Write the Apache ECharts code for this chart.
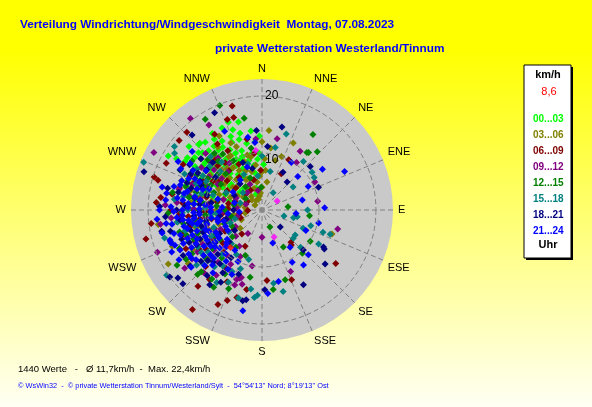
<!DOCTYPE html>
<html>
<head>
<meta charset="utf-8">
<script src="https://cdn.jsdelivr.net/npm/echarts@6/dist/echarts.min.js"></script>
<style>
html, body { margin: 0; padding: 0; }
#main { width: 592px; height: 407px; }
</style>
</head>
<body>
<div id="main"></div>
<script>
// Zeitfenster (Legende) und Himmelsrichtungen
var timeSlots = ['00...03', '03...06', '06...09', '09...12', '12...15', '15...18', '18...21', '21...24'];
var dirNames = ['N', 'NNE', 'NE', 'ENE', 'E', 'ESE', 'SE', 'SSE', 'S', 'SSW', 'SW', 'WSW', 'W', 'WNW', 'NW', 'NNW'];
var speedTicks = [10, 20];
var currentSpeed = '8,6';

// Messwerte je Zeitfenster: [Richtung in Grad, Geschwindigkeit km/h]
var w0003 = [[315,12],[320,10],[325,11],[330,9],[318,14],[310,13],[305,11],[322,7],[335,8],[340,10],[328,13],[312,9],[300,12],[298,14],[308,15],[316,16],[326,15],[332,12],[338,6],[345,9],[320,5],[310,7],[300,8],[295,10],[290,12],[285,9],[315,8],[324,9],[318,11],[330,14],[335,11],[342,13],[313,11],[306,9],[327,10],[303,14],[293,7],[311,17],[321,12],[334,16],[288,14],[283,11],[296,16],[309,5],[350,8],[347,12],[337,14],[329,7],[317,13],[302,10],[280,13],[276,10],[286,6],[340,15],[323,14],[305,16],[299,5],[270,12],[262,9],[345,16],[300,19],[301,17.5],[317,16],[354,12],[357,10],
    [314,14.5],[319,12.5],[324,13],[333,10],[336,9.5],[341,11],[344,14],[339,16.5],[327,16],[320,15.5],[312,15],[307,13],[302,16],[297,12],[292,14],[288,10.5],[282,15],[278,12],[331,6.5],[326,7.5],[319,8.5],[313,6],[307,7],[349,10],[352,14],[346,7],[336,13],[322,10.5],[309,11.5],[298,9],
    [345,4],[350,6.5],[355,9],[358,13],[2,8],[340,3],[328,4.5]];
var w0306 = [[335,6],[340,4],[345,7],[350,5],[330,8],[325,5],[320,7],[315,6],[310,9],[300,7],[290,8],[280,9],[270,10],[305,4],[355,3],[0,4],[10,5],[15,9],[20,10],[340,9],[328,11],[318,4],[295,11],[285,13],[275,6],[265,8],[250,10],[240,14],[255,12],[335,13],[345,10],[300,5],[312,12],[322,3],[352,8],[5,7],[330,2],[260,5],[310,14],[290,15],[25,13],[0,12],[109,13],[315,10],[305,8],[292,6],[283,4],[330,11],[338,12],[248,17],[234,16],[262,15],[240,19],[262,18.4],[305,1.5],[0,6.7],
    [320,9.5],[326,9],[332,6],[338,7.5],[344,5.5],[348,9.5],[314,8],[308,6.5],[302,9.5],[296,8.5],[289,10],[282,11],[276,12.5],[270,8],[266,11],[258,13],[252,8],[244,12],[318,12.5],[325,13.5],[330,15],[304,11],[286,7],
    [350,2.5],[356,6],[3,9],[8,11],[342,2],[315,2.5],[296,3],[278,3],[5,14],
    [260,3],[245,4],[230,5]];
var w0609 = [[344,19],[343,17],[316,19],[310,19],[286,19],[296,18.7],[274,18.6],[263,19.6],[256,21],[215,21.3],[205,18.3],[201,17],[196,16],[220,17.5],[217,15.3],[191,14.2],[126,16],[138,7.6],[140,8],[176,12.4],[157,13.3],[28,10],[28,7.2],[339,17],[348,12.7],[328,15.7],[287,19.8],[277,17.9],[300,10],[290,11],[280,8],[270,12],[260,9],[250,11],[240,10],[310,6],[320,9],[330,12],[295,14],[285,15],[275,14],[265,13],[255,7],[245,13],[235,12],[230,9],[225,14],[305,12],[315,11],[325,7],[288,5],[272,6],[262,4],[300,16],[280,16],[270,16],
    [310,8],[304,9],[296,11.5],[291,13],[283,10],[278,11],[268,10],[262,11],[257,13],[249,9],[243,15],[238,13],[228,12],[222,10],[317,12],[322,10.5],[333,9],[326,14],[299,7],[281,6],[267,14.5],[253,14.5],[212,12],[206,14],
    [330,4],[345,5.5],[352,10],[358,7],[300,3],[315,4],[268,2.5],
    [250,4],[235,6],[220,5.5],[205,7],[240,7.5],[265,7]];
var w0912 = [[322,20.4],[328,17.6],[298,21.5],[248,19.8],[233,17],[197,12.4],[211,4.8],[180,4.8],[104,13.7],[155,11.9],[81,9.9],[33,12.3],[36,10.3],[62,10.5],[12,12.8],[300,9],[290,13],[280,11],[270,9],[260,12],[250,14],[240,12],[230,11],[220,12],[210,11],[305,13],[315,14],[285,7],[275,15],[265,16],[255,10],[245,9],[235,15],[225,9],[295,5],[310,11],[320,12],[268,7],[252,6],[215,14],[205,9],[190,10],[200,14],[198,12.6],[200,13],[195,13.5],
    [308,9],[302,11],[293,10.5],[288,12],[281,13],[276,9.5],[271,12],[263,10],[258,8],[247,12.5],[242,10],[237,13.5],[228,13],[223,15],[313,12.5],[318,9],[325,10],[296,14],[284,15],[273,17],[262,18],[218,10],[208,12],
    [335,5],[348,3.5],[355,12.5],[320,4],[290,3],[275,4.5],
    [255,4.5],[238,5.5],[225,6.5],[212,7.5],[245,8],[262,6]];
var w1215 = [[338,19.8],[328,18.8],[349,16.4],[34,16],[39,13],[43.5,14.1],[83,4.6],[97,8.4],[123,10.1],[155,3.3],[161.6,12.9],[172,14.1],[237,17.8],[224.5,15.2],[212,16],[237,15.9],[203,15],[300,11],[290,9],[280,13],[270,11],[260,14],[250,12],[240,11],[230,13],[310,10],[320,13],[330,10],[295,7],[285,12],[275,8],[265,10],[255,15],[245,16],[235,9],[305,15],[315,9],[220,11],[210,13],[225,16],[190,12],[38,12.8],[137,10.4],[150,7.5],
    [307,12],[302,8.5],[298,13],[292,11],[287,14],[283,8],[277,10.5],[272,13],[267,9],[262,12],[257,10],[252,14],[247,13],[242,9.5],[238,14.5],[232,11],[227,13],[313,13],[318,11.5],[325,12],[296,10],[281,16],[268,16.5],[216,15],
    [340,6],[350,11],[358,4],[325,5],[305,3.5],[280,5],
    [258,5.5],[242,6],[228,7],[215,8],[250,7],[270,6.5],[200,8.5]];
var w1518 = [[292,22.4],[306,19],[303,18.3],[254,17.8],[235.6,20.3],[185,15.4],[183,15],[165.5,14.8],[171,13],[121,11.6],[110,11.4],[109.5,12.7],[90,8],[105,4],[104,5.7],[127,7.3],[134,9.4],[108,9],[40.5,11.2],[17.7,14],[12,11.2],[58,10.8],[53.4,6.8],[33,3.6],[12,6.9],[300,12],[290,10],[280,14],[270,13],[260,11],[250,9],[240,13],[230,15],[220,13],[310,12],[320,11],[295,15],[285,11],[275,12],[265,9],[255,14],[245,11],[235,13],[225,12],[215,12],[205,14],[195,16],[188,14],[200,11],[114,7.9],[101,6.3],[132,7.4],[53,11],
    [306,10],[302,13.5],[297,11],[292,12.5],[287,9],[282,12],[277,15.5],[272,10],[268,14],[262,15],[257,12],[252,11],[247,14],[243,10],[237,11],[232,12],[227,14],[222,10.5],[313,10],[316,13],[296,7],[284,13.5],[212,15],[206,12],
    [333,7],[343,8.5],[353,6],[0,9.5],[312,4.5],[288,4],
    [252,5],[236,7],[222,8],[210,9],[248,6],[266,8],[195,9]];
var w1821 = [[334,19],[288,21.8],[317,18],[272,18],[258,18],[257,16.5],[231,19],[234,20],[227,19],[209.7,14.6],[192,16.3],[190,16],[130.6,14.6],[121,12.6],[151,15],[134,10.1],[133,4.4],[178,14],[13.5,15],[48,11.4],[68,10.7],[42,6.6],[5,11.2],[300,13],[290,14],[280,12],[270,15],[260,13],[250,15],[240,16],[230,14],[310,14],[285,10],[275,11],[265,12],[255,11],[245,12],[235,10],[225,11],[295,12],[305,10],[220,15],[212,13],[200,12],[215,16],[122,12.9],[29,7.6],
    [306,12],[302,15],[297,14],[292,11.5],[287,13],[282,15],[278,9],[273,13.5],[268,11],[263,14.5],[259,10],[254,13],[249,11],[246,14],[242,13],[238,11],[232,16],[227,13],[223,12.5],[314,12],[296,16],[283,17],[266,17],[251,17],[218,12],
    [338,9],[347,7.5],[356,14],[320,6],[298,5.5],[270,5],
    [256,6.5],[241,8.5],[226,8],[213,10],[233,6],[262,7.5]];
var w2124 = [[65,16],[56,12.8],[63,9.1],[31.7,9.8],[47,8.6],[103,10.2],[134,11.3],[76,7.3],[143,12.1],[143,8.2],[150,10.6],[176,14.7],[167,12.9],[162,6.1],[190.8,18],[334.6,15.3],[354,11.9],[115,8.5],[96,6],[88,11],[270,14],[268,12],[272,16],[265,15],[262,13],[275,13],[278,15],[280,17],[282,14],[285,16],[288,12],[275,10],[268,9],[260,11],[258,14],[255,16],[252,12],[250,13],[248,10],[245,11],[242,14],[240,9],[238,12],[235,11],[232,13],[228,10],[225,12],[230,8],[236,15],[244,16],[252,17],[262,17],[270,18],[290,15],[295,13],[300,14],[305,12],[310,16],[300,17],[292,10],[284,8],[274,7],[264,6],[255,8],[246,7],[220,10],[215,11],[210,12],[205,10],[218,14],[275,12],[279,11],[266,14],[256,10],[271,11],[261,16],[247,15],[241,11],[250,17],[248,16.5],[258,11.6],[263,12],
    [272,13],[269,15.5],[266,11],[263,14],[259,12.5],[256,13.5],[253,15],[249,14],[246,12.5],[243,13],[239,15],[236,10],[233,14.5],[229,12],[226,14],[222,13],[277,14],[281,12],[284,13.5],[287,15],[293,14],[297,16],[303,15],[283,18],[276,17],[265,18.5],[257,18],[245,17.5],[239,17],[231,16],[273,9],[261,9],[251,10.5],[237,9],[227,8.5],[289,11],[294,12],
    [341,8],[349,13],[324,6.5],[302,6],[285,5],[265,4],
    [254,7],[239,7],[224,9],[214,8.5],[244,9],[259,8],[268,7.5],[232,10.5],[205,12.5]];
var wLatest = [[59,3.1],[156,5.2],[354,10.5]];
var wCurrent = [[220,8.6]];
var centre = [[0,0]];

var slotColors = ['#00ff00', '#808000', '#800000', '#800080', '#008000', '#008080', '#000080', '#0000ff'];
var slotData = [w0003, w0306, w0609, w0912, w1215, w1518, w1821, w2124];

var polarCenter = [262, 210];
var polarRadius = 131;

var myChart = echarts.init(document.getElementById('main'));

function toPolar(arr) {
    // ECharts polar erwartet [radius, winkel]
    return arr.map(function (p) { return [p[1], p[0]]; });
}

var series = [];
for (let i = 0; i < timeSlots.length; i++) {
    series.push({
        name: timeSlots[i],
        type: 'scatter',
        coordinateSystem: 'polar',
        symbol: 'diamond',
        symbolSize: 7,
        itemStyle: { color: slotColors[i], opacity: 1 },
        data: toPolar(slotData[i]),
        z: 3 + i
    });
}
series.push({
    type: 'scatter', coordinateSystem: 'polar', symbol: 'diamond', symbolSize: 7,
    itemStyle: { color: '#ff00ff' }, data: toPolar(wLatest), z: 12
});
series.push({
    type: 'scatter', coordinateSystem: 'polar', symbol: 'diamond', symbolSize: 7,
    itemStyle: { color: '#ff0000' }, data: toPolar(wCurrent), z: 13
});
series.push({
    type: 'scatter', coordinateSystem: 'polar', symbol: 'rect', symbolSize: 5,
    itemStyle: { color: '#8a8a8a' }, data: toPolar(centre), z: 2, silent: true
});

var font = 'Liberation Sans, Arial, sans-serif';

var option = {
    backgroundColor: {
        type: 'linear', x: 0, y: 0, x2: 0, y2: 1,
        colorStops: [
            { offset: 0, color: '#ffff00' },
            { offset: 0.12, color: '#ffff00' },
            { offset: 1, color: '#fffff4' }
        ]
    },
    animation: false,
    title: [{
        text: 'Verteilung Windrichtung/Windgeschwindigkeit  Montag, 07.08.2023',
        left: 15, top: 14,
        textStyle: { color: '#0000ff', fontSize: 11.8, fontWeight: 'bold', fontFamily: font }
    }, {
        text: 'private Wetterstation Westerland/Tinnum',
        left: 210, top: 38,
        textStyle: { color: '#0000ff', fontSize: 11.8, fontWeight: 'bold', fontFamily: font }
    }],
    legend: {
        orient: 'vertical',
        left: 523, top: 108,
        icon: 'none',
        itemWidth: 0, itemHeight: 12, itemGap: 4,
        z: 10,
        data: timeSlots.map(function (t, i) {
            return { name: t, textStyle: { color: slotColors[i] } };
        }),
        textStyle: { fontSize: 10, fontWeight: 'bold', fontFamily: font, lineHeight: 12 }
    },
    polar: { center: polarCenter, radius: polarRadius },
    angleAxis: {
        type: 'value', min: 0, max: 360, interval: 22.5,
        startAngle: 90, clockwise: true,
        axisLine: { show: false },
        axisTick: { show: false },
        axisLabel: {
            margin: 5, color: '#000', fontSize: 11, fontFamily: font,
            formatter: function (v) { return dirNames[Math.round(v / 22.5) % 16]; }
        },
        splitLine: { show: true, lineStyle: { color: '#808080', type: [5, 3], width: 1 } },
        splitArea: { show: false }
    },
    radiusAxis: {
        min: 0, max: 23, interval: 10,
        axisLine: { show: false },
        axisTick: { show: false },
        axisLabel: {
            inside: true, margin: 3, align: 'left', padding: [0, 0, 0, 6],
            color: '#000', fontSize: 12, fontFamily: font, lineHeight: 14,
            formatter: function (v) {
                if (speedTicks.indexOf(v) < 0) return '';
                // die untere Beschriftung sitzt etwas unter dem Ring
                return v === speedTicks[0] ? '\n' + v : String(v);
            }
        },
        splitLine: {
            show: true,
            lineStyle: { color: ['#808080', '#808080', '#808080', 'rgba(0,0,0,0)'], type: [5, 3], width: 1 }
        },
        z: 20
    },
    graphic: [
        // graue Scheibe des Diagramms (hinter den Hilfslinien)
        { type: 'circle', shape: { cx: polarCenter[0], cy: polarCenter[1], r: polarRadius }, style: { fill: '#c9c9c9' }, z: -10, silent: true },
        { type: 'rect', shape: { x: 526, y: 67, width: 47, height: 193 }, style: { fill: '#000' }, z: 1 },
        { type: 'rect', shape: { x: 524, y: 65, width: 47, height: 193 }, style: { fill: '#fff', stroke: '#000', lineWidth: 1 }, z: 2 },
        { type: 'text', x: 548, y: 75, z: 3, style: { text: 'km/h', fill: '#000', font: 'bold 11px ' + font, textAlign: 'center', textVerticalAlign: 'middle' } },
        { type: 'text', x: 549, y: 92, z: 3, style: { text: currentSpeed, fill: '#ff0000', font: '11px ' + font, textAlign: 'center', textVerticalAlign: 'middle' } },
        { type: 'text', x: 548, y: 245, z: 3, style: { text: 'Uhr', fill: '#000', font: 'bold 11px ' + font, textAlign: 'center', textVerticalAlign: 'middle' } },
        { type: 'text', x: 18, y: 369, z: 3, style: { text: '1440 Werte   -   \u00d8 11,7km/h  -  Max. 22,4km/h', fill: '#000', font: '9.5px ' + font, textVerticalAlign: 'middle' } },
        { type: 'text', x: 18, y: 386, z: 3, style: { text: '\u00a9 WsWin32  -  \u00a9 private Wetterstation Tinnum/Westerland/Sylt  -  54\u00b054\'13" Nord; 8\u00b019\'13" Ost', fill: '#0000ff', font: '7.4px ' + font, textVerticalAlign: 'middle' } }
    ],
    series: series
};

myChart.setOption(option);
</script>
</body>
</html>
